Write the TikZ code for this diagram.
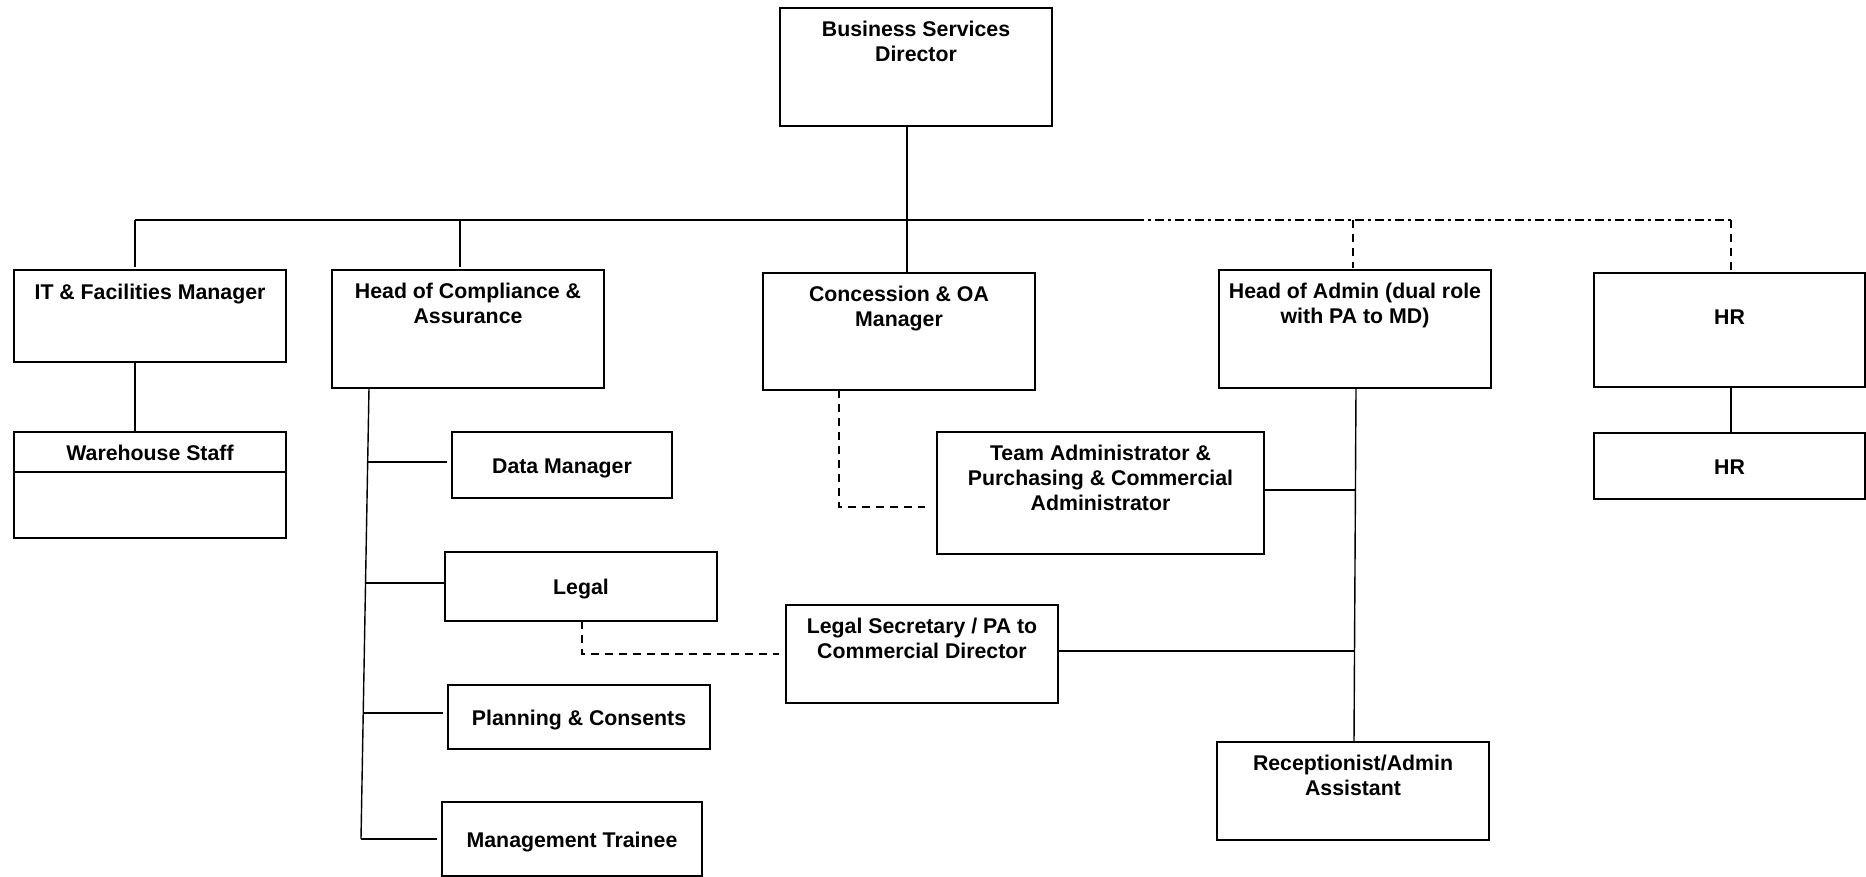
\documentclass[tikz,border=0pt]{standalone}
\usepackage{fontspec}
\setmainfont{Liberation Sans}
\usetikzlibrary{calc}
\begin{document}
\begin{tikzpicture}[x=1pt,y=-1pt,
  box/.style={draw, line width=2pt, rectangle, inner sep=0pt, outer sep=0pt},
  ttl/.style={anchor=north, align=center, inner sep=0pt, font=\bfseries\fontsize{21.3}{25}\selectfont, execute at begin node=\strut},
  one/.style={anchor=base, inner sep=0pt, font=\bfseries\fontsize{21.3}{25}\selectfont},
  conn/.style={line width=1.4pt},
  dsh/.style={line width=1.8pt, dash pattern=on 8pt off 6pt},
  dshdot/.style={line width=1.8pt, dash pattern=on 9pt off 4pt on 3pt off 4pt}]
\useasboundingbox (0,0) rectangle (1866,877);

% boxes
\node[box, minimum width=272pt, minimum height=118pt] (bsd) at (916,67) {};
\node[box, minimum width=272pt, minimum height=92pt]  (it)  at (150,316) {};
\node[box, minimum width=272pt, minimum height=118pt] (hoc) at (468,329) {};
\node[box, minimum width=272pt, minimum height=117pt] (con) at (899,331.5) {};
\node[box, minimum width=272pt, minimum height=118pt] (hoa) at (1355,329) {};
\node[box, minimum width=271pt, minimum height=114pt] (hr1) at (1729.5,330) {};
\node[box, minimum width=272pt, minimum height=106pt] (wh)  at (150,485) {};
\node[box, minimum width=220pt, minimum height=66pt]  (dm)  at (562,465) {};
\node[box, minimum width=272pt, minimum height=69pt]  (legal) at (581,586.5) {};
\node[box, minimum width=262pt, minimum height=64pt]  (plan) at (579,717) {};
\node[box, minimum width=260pt, minimum height=74pt]  (mt)  at (572,839) {};
\node[box, minimum width=327pt, minimum height=122pt] (ta)  at (1100.5,493) {};
\node[box, minimum width=272pt, minimum height=98pt]  (ls)  at (922,654) {};
\node[box, minimum width=272pt, minimum height=98pt]  (rec) at (1353,791) {};
\node[box, minimum width=271pt, minimum height=66pt]  (hr2) at (1729.5,466) {};

% warehouse divider
\coordinate (whd) at (150,472);
\draw[line width=2pt] (whd -| wh.west) -- (whd -| wh.east);

% texts
\node[ttl] (bsd-t) at ([yshift=-13pt]bsd.north) {Business Services\\Director};
\node[ttl] (it-t)  at ([yshift=-12pt]it.north)  {IT \& Facilities Manager};
\node[ttl] (hoc-t) at ([yshift=-12.5pt]hoc.north) {Head of Compliance \&\\Assurance};
\node[ttl] (con-t) at ([yshift=-12.5pt]con.north) {Concession \& OA\\Manager};
\node[ttl] (hoa-t) at ([yshift=-12.5pt]hoa.north) {Head of Admin (dual role\\with PA to MD)};
\node[ttl] (ta-t)  at ([yshift=-12.5pt]ta.north)  {Team Administrator \&\\Purchasing \& Commercial\\Administrator};
\node[ttl] (ls-t)  at ([yshift=-12.5pt]ls.north)  {Legal Secretary / PA to\\Commercial Director};
\node[ttl] (rec-t) at ([yshift=-12.5pt]rec.north) {Receptionist/Admin\\Assistant};
\node[one] (hr1-t) at ([yshift=-52pt]hr1.north) {HR};
\node[one] (wh-t)  at ([yshift=-28pt]wh.north) {Warehouse Staff};
\node[one] (dm-t)  at ([yshift=-8.6pt]dm.center) {Data Manager};
\node[one] (legal-t) at ([yshift=-8.3pt]legal.center) {Legal};
\node[one] (plan-t) at ([yshift=-8.2pt]plan.center) {Planning \& Consents};
\node[one] (mt-t)  at ([yshift=-8pt]mt.center) {Management Trainee};
\node[one] (hr2-t) at ([yshift=-8.8pt]hr2.center) {HR};

% top-level junctions
\coordinate (jIT)  at (135,220);
\coordinate (jHOC) at (460,220);
\coordinate (jBSD) at (907,220);
\coordinate (jS)   at (1135,220);
\coordinate (jHOA) at (1353,220);
\coordinate (jHR)  at (1731,220);

\draw[conn, line width=1.8pt] (jIT) -- (jS);
\draw[dshdot] (jS) -- (jHR);
\draw[conn] (bsd.south -| jBSD) -- (con.north -| jBSD);
\draw[conn, shorten >=3pt] (jIT) -- (it.north -| jIT);
\draw[conn, shorten >=3pt] (jHOC) -- (hoc.north -| jHOC);
\draw[dsh, shorten >=2pt] (jHOA) -- (hoa.north -| jHOA);
\draw[dsh, shorten >=2pt] (jHR) -- (hr1.north -| jHR);
\draw[conn] (it.south -| jIT) -- (wh.north -| jIT);
\draw[conn] (hr1.south -| jHR) -- (hr2.north -| jHR);

% compliance spine
\coordinate (cA) at (369,388);
\coordinate (cB) at (361,839);
\draw[conn] (cA) -- (cB);
\coordinate (b1) at ($(cA)!0.164!(cB)$);
\coordinate (b2) at ($(cA)!0.432!(cB)$);
\coordinate (b3) at ($(cA)!0.721!(cB)$);
\draw[conn, shorten >=5pt] (b1) -- (b1 -| dm.west);
\draw[conn] (b2) -- (b2 -| legal.west);
\draw[conn, shorten >=5pt] (b3) -- (b3 -| plan.west);
\draw[conn, shorten >=5pt] (cB) -- (cB -| mt.west);

% dashed links
\coordinate (cd) at (839,507);
\draw[dsh, shorten >=12pt] (con.south -| cd) -- (cd) -- (cd -| ta.west);
\coordinate (ld) at (582,654);
\draw[dsh, shorten >=7pt] (legal.south -| ld) -- (ld) -- (ld -| ls.west);

% admin spine
\coordinate (aA) at (1356,388);
\coordinate (aB) at (1354,742);
\draw[conn] (hoa.south -| aA) -- (rec.north -| aB);
\coordinate (t1) at (1355.4,490);
\coordinate (t2) at (1354.6,651);
\draw[conn] (t1 -| ta.east) -- (t1);
\draw[conn] (t2 -| ls.east) -- (t2);
\end{tikzpicture}
\end{document}
